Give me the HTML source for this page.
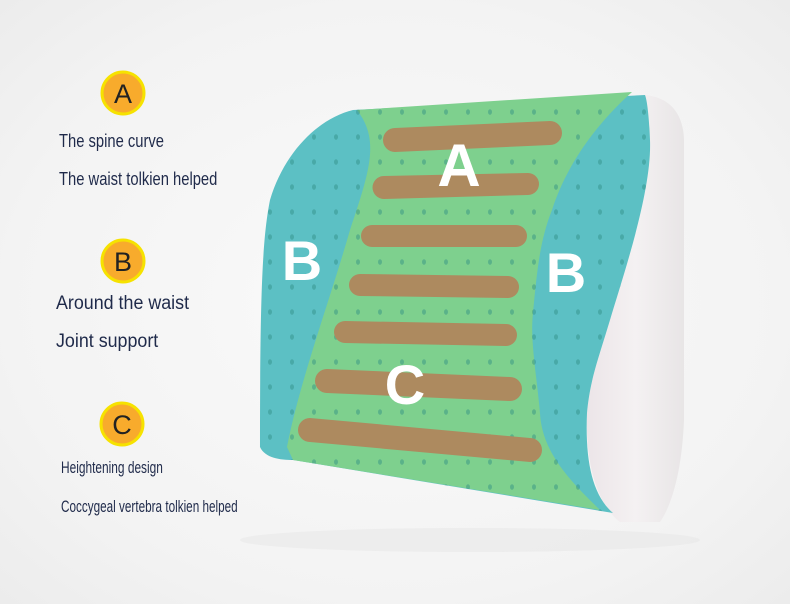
<!DOCTYPE html>
<html><head><meta charset="utf-8"><style>
html,body{margin:0;padding:0;}
body{width:790px;height:604px;overflow:hidden;background:radial-gradient(ellipse at 50% 50%,#fafafa 0%,#f3f3f3 70%,#ececec 100%);position:relative;font-family:"Liberation Sans",sans-serif;}
.t{position:absolute;color:#1f2a4a;white-space:nowrap;transform-origin:0 0;}
</style></head><body>
<svg width="790" height="604" style="position:absolute;left:0;top:0">
<defs>
<pattern id="dots" x="0" y="0" width="22" height="25" patternUnits="userSpaceOnUse">
<ellipse cx="6" cy="12" rx="2" ry="2.8" fill="#2f8f84" opacity="0.45"/>
</pattern>
<linearGradient id="wg" x1="0" x2="1"><stop offset="0" stop-color="#ece5e8"/><stop offset="0.5" stop-color="#f4f1f2"/><stop offset="1" stop-color="#e8e5e6"/></linearGradient>
</defs>
<ellipse cx="470" cy="540" rx="230" ry="12" fill="#e6e6e6" opacity="0.5"/>
<!-- white side -->
<path d="M645,95 C665,97 683,108 684,140 L684,420 C682,470 672,505 660,522 L620,522 C598,505 585,465 587,413 C590,380 598,360 610,320 C625,270 652,190 650,140 C649,115 647,100 645,95 Z" fill="url(#wg)"/>
<!-- front teal -->
<path id="front" d="M353,110 C320,118 285,150 270,200 C262,240 260,300 260,447 C265,458 280,460 293,460 L613,513 C592,495 585,460 587,413 C590,380 598,360 610,320 C625,270 652,190 650,140 C649,115 647,100 645,95 Z" fill="#5cc0c4"/>
<!-- green -->
<path d="M357,110 C380,140 370,170 350,230 C330,300 300,380 287,447 L293,460 L600,510 C575,485 542,455 540,413 C536,370 530,340 533,313 C537,270 540,240 552,210 C565,170 590,130 632,92 Z" fill="#7ed08e"/>
<path d="M353,110 C320,118 285,150 270,200 C262,240 260,300 260,447 C265,458 280,460 293,460 L613,513 C592,495 585,460 587,413 C590,380 598,360 610,320 C625,270 652,190 650,140 C649,115 647,100 645,95 Z" fill="url(#dots)"/>
<g fill="#ad8a5f">
<path d="M395,128 L550,121 A12,12 0 0 1 550,145 L395,152 A12,12 0 0 1 395,128Z"/>
<path d="M384,176 L528,173 A11,11 0 0 1 528,195 L384,199 A11,11 0 0 1 384,176Z"/>
<path d="M372,225 L516,225 A11,11 0 0 1 516,247 L372,247 A11,11 0 0 1 372,225Z"/>
<path d="M360,274 L508,276 A11,11 0 0 1 508,298 L360,296 A11,11 0 0 1 360,274Z"/>
<path d="M345,321 L506,324 A11,11 0 0 1 506,346 L345,343 A11,11 0 0 1 345,321Z"/>
<path d="M327,369 L510,377 A12,12 0 0 1 510,401 L327,393 A12,12 0 0 1 327,369Z"/>
<path d="M310,418 L530,438 A12,12 0 0 1 530,462 L310,442 A12,12 0 0 1 310,418Z"/>
</g>
<g font-family="Liberation Sans,sans-serif" font-weight="bold" fill="#fff" text-anchor="middle">
<text x="459" y="186" font-size="60">A</text>
<text x="302" y="280" font-size="56">B</text>
<text x="566" y="292" font-size="56">B</text>
<text x="405" y="404" font-size="56">C</text>
</g>
<g font-family="Liberation Sans,sans-serif" font-size="27" fill="#222" text-anchor="middle">
<circle cx="123" cy="93" r="21" fill="#f8ab2c" stroke="#f6e200" stroke-width="3"/>
<text x="123" y="103">A</text>
<circle cx="123" cy="261" r="21" fill="#f8ab2c" stroke="#f6e200" stroke-width="3"/>
<text x="123" y="271">B</text>
<circle cx="122" cy="424" r="21" fill="#f8ab2c" stroke="#f6e200" stroke-width="3"/>
<text x="122" y="434">C</text>
</g>
</svg>
<div class="t" style="left:59px;top:131px;font-size:18px;transform:scaleX(0.82)">The spine curve</div>
<div class="t" style="left:59px;top:169px;font-size:18px;transform:scaleX(0.82)">The waist tolkien helped</div>
<div class="t" style="left:56px;top:293px;font-size:19px;transform:scaleX(0.94)">Around the waist</div>
<div class="t" style="left:56px;top:331px;font-size:19px;transform:scaleX(0.94)">Joint support</div>
<div class="t" style="left:61px;top:458px;font-size:17px;transform:scaleX(0.70)">Heightening design</div>
<div class="t" style="left:61px;top:497px;font-size:17px;transform:scaleX(0.69)">Coccygeal vertebra tolkien helped</div>
</body></html>
